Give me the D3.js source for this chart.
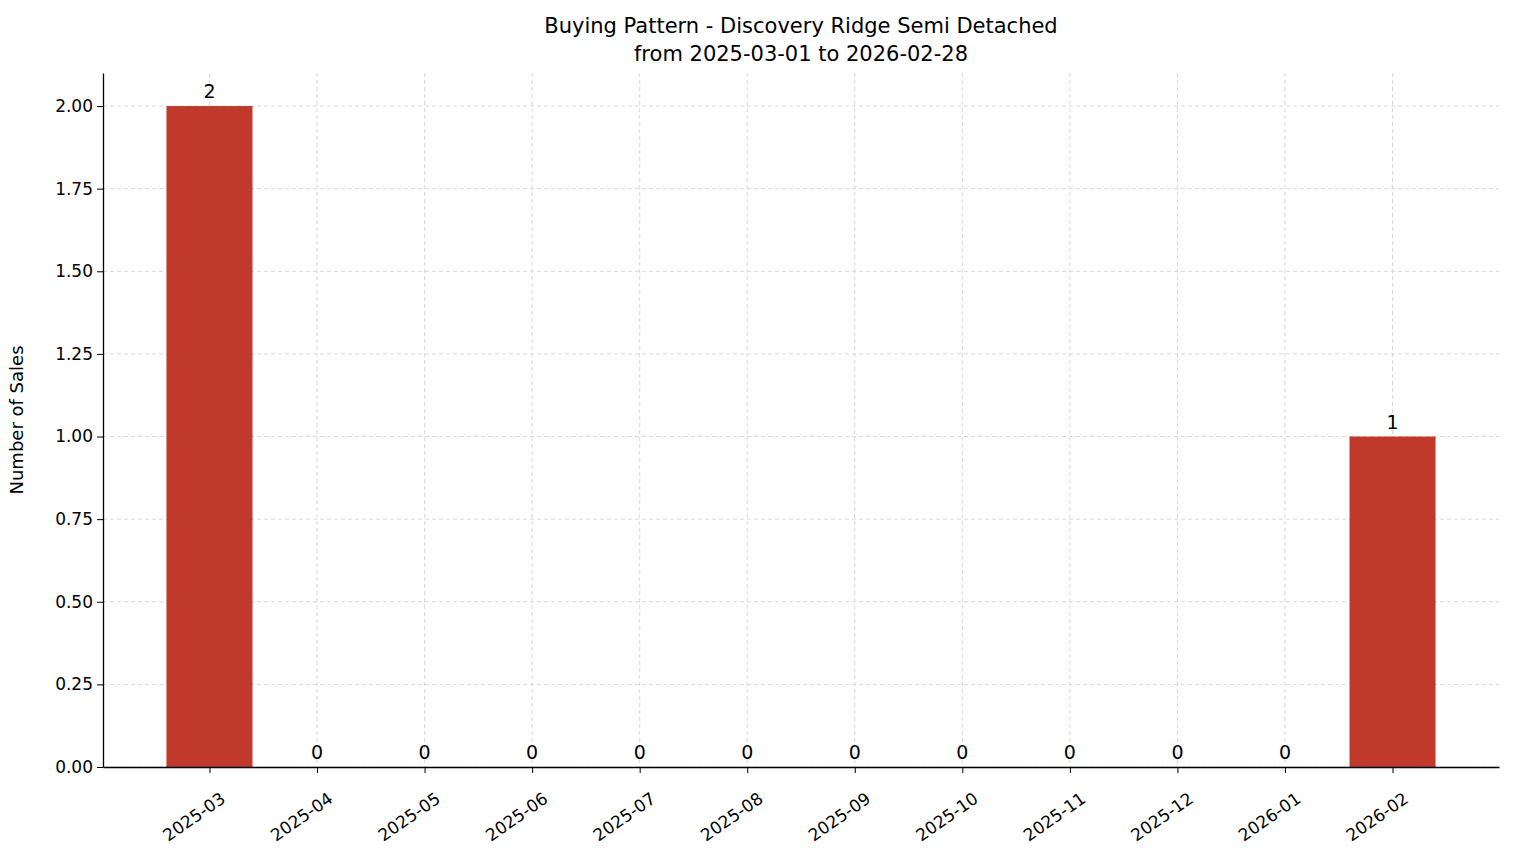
<!DOCTYPE html>
<html><head><meta charset="utf-8">
<script src="https://cdn.jsdelivr.net/npm/d3@7"></script>
<style>
body{margin:0;background:#fff;font-family:"DejaVu Sans",sans-serif;}
</style></head>
<body><div id="chart"></div>
<script>
var months = ["2025-03","2025-04","2025-05","2025-06","2025-07","2025-08","2025-09","2025-10","2025-11","2025-12","2026-01","2026-02"];
var sales = [2,0,0,0,0,0,0,0,0,0,0,1];
var yTicks = [0,0.25,0.5,0.75,1,1.25,1.5,1.75,2];

var margin = {top: 73, right: 15, bottom: 96, left: 103},
width = 1514 - margin.left - margin.right,
height = 863 - margin.top - margin.bottom;

var svg = d3.select("#chart").append("svg")
.attr("width", 1514).attr("height", 863)
.append("g")
.attr("transform", "translate(" + margin.left + "," + margin.top + ")");

var x = d3.scaleLinear().domain([-0.99, 11.99]).range([0, width]);
var y = d3.scaleLinear().domain([0, 2.1]).range([height, 0]);
var bw = x(0.8) - x(0);

// grid
svg.selectAll(".gy").data(yTicks).enter().append("line")
.attr("x1", 0).attr("x2", width)
.attr("y1", d => y(d)).attr("y2", d => y(d))
.attr("stroke", "#d8d8d8").attr("stroke-dasharray", "4,3");
svg.selectAll(".gx").data(months).enter().append("line")
.attr("x1", (d,i) => x(i)).attr("x2", (d,i) => x(i))
.attr("y1", 0).attr("y2", height)
.attr("stroke", "#d8d8d8").attr("stroke-dasharray", "4,3");

// bars
svg.selectAll(".bar").data(sales).enter().append("rect")
.attr("x", (d,i) => x(i) - bw/2)
.attr("width", bw)
.attr("y", d => y(d))
.attr("height", d => height - y(d))
.attr("fill", "#c0392b");

svg.selectAll(".lbl").data(sales).enter().append("text")
.attr("x", (d,i) => x(i))
.attr("y", d => y(d) - 8)
.attr("text-anchor", "middle")
.style("font-size", "19px")
.text(d => d);

// axes
var yAxis = svg.append("g").call(d3.axisLeft(y).tickValues(yTicks).tickFormat(d3.format(".2f")).tickSizeOuter(0));
var xAxis = svg.append("g").attr("transform", "translate(0," + height + ")")
.call(d3.axisBottom(x).tickValues(d3.range(12)).tickFormat(i => months[i]).tickSizeOuter(0));
[xAxis, yAxis].forEach(a => {
  a.select(".domain").attr("stroke", "#000").attr("stroke-width", 1.3);
  a.selectAll(".tick line").attr("stroke", "#000");
  a.selectAll("text").style("font-size", "17px").style("font-family", "DejaVu Sans").attr("fill", "#000");
});
yAxis.selectAll("text").attr("x", -10);
xAxis.selectAll("text")
.attr("text-anchor", "end")
.attr("dy", "0.35em")
.attr("transform", "translate(8,22) rotate(-35)");

svg.append("text")
.attr("transform", "rotate(-90)")
.attr("x", -height/2).attr("y", -80)
.attr("text-anchor", "middle")
.style("font-size", "18px")
.text("Number of Sales");

svg.append("text").attr("x", width/2).attr("y", -40)
.attr("text-anchor", "middle").style("font-size", "21px")
.text("Buying Pattern - Discovery Ridge Semi Detached");
svg.append("text").attr("x", width/2).attr("y", -12)
.attr("text-anchor", "middle").style("font-size", "21px")
.text("from 2025-03-01 to 2026-02-28");
</script>
</body></html>
